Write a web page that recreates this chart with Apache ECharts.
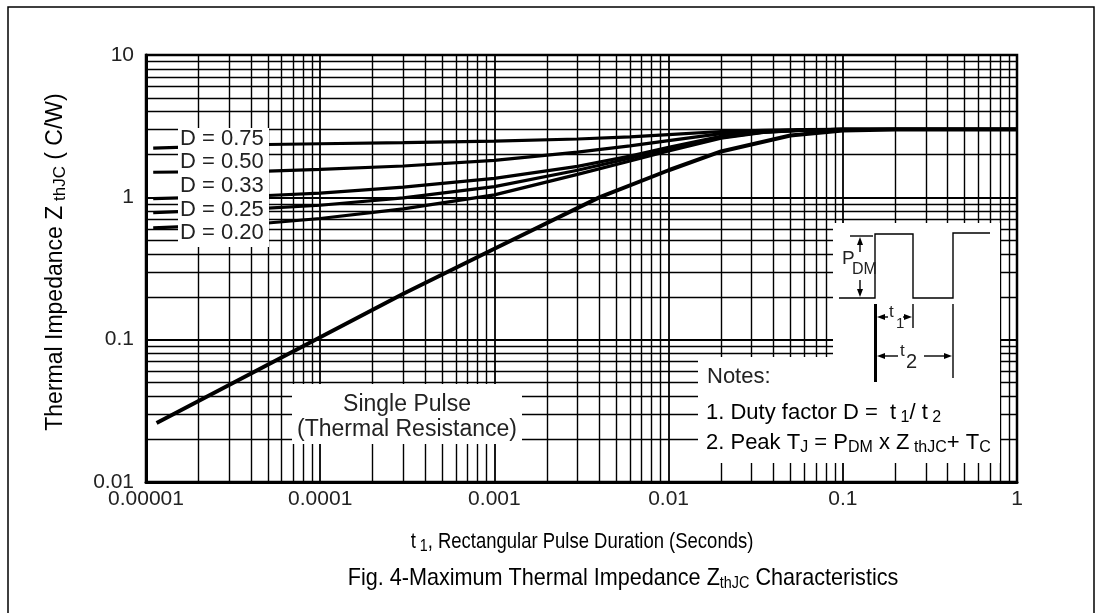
<!DOCTYPE html>
<html>
<head>
<meta charset="utf-8">
<script src="https://cdn.jsdelivr.net/npm/echarts@6/dist/echarts.min.js"></script>
<style>html,body{margin:0;padding:0;background:#fff}#c{width:1103px;height:613px}</style>
</head>
<body>
<div id="c"></div>
<script>
// ---- data ----
const pulseT = [1.1e-5, 5e-5, 1e-4, 3e-4, 1e-3, 3e-3, 6e-3, 1e-2, 2e-2, 3.5e-2, 6e-2, 0.1, 1];
const zD075 = [2.22, 2.35, 2.38, 2.42, 2.48, 2.57, 2.66, 2.76, 2.90, 2.96, 2.99, 3.0, 3.0];
const zD050 = [1.50, 1.53, 1.57, 1.66, 1.82, 2.08, 2.30, 2.50, 2.80, 2.92, 2.98, 3.0, 3.0];
const zD033 = [0.98, 1.03, 1.07, 1.18, 1.36, 1.65, 1.95, 2.25, 2.68, 2.88, 2.97, 3.0, 3.0];
const zD025 = [0.78, 0.84, 0.88, 0.99, 1.19, 1.55, 1.88, 2.18, 2.64, 2.87, 2.97, 3.0, 3.0];
const zD020 = [0.61, 0.66, 0.71, 0.83, 1.04, 1.45, 1.80, 2.12, 2.60, 2.86, 2.97, 3.0, 3.0];
const singleT = [1.15e-5, 1e-4, 3e-4, 1e-3, 4e-3, 1e-2, 2e-2, 5e-2, 0.1, 0.2, 1];
const singleZ = [0.026, 0.104, 0.21, 0.435, 1.0, 1.55, 2.1, 2.72, 2.95, 3.0, 3.0];
const xTickLabels = ['0.00001', '0.0001', '0.001', '0.01', '0.1', '1'];
const yTickLabels = ['0.01', '0.1', '1', '10'];
const dLabels = ['D = 0.75', 'D = 0.50', 'D = 0.33', 'D = 0.25', 'D = 0.20'];

const FONT = 'Liberation Sans, Arial, sans-serif';
const pairs = (xs, ys) => xs.map((x, i) => [x, ys[i]]);
const curve = (name, xs, ys, w) => ({
  name, type: 'line', data: pairs(xs, ys), showSymbol: false, smooth: false,
  lineStyle: { color: '#000', width: w }, z: 5, silent: true
});

const chart = echarts.init(document.getElementById('c'), null, { renderer: 'canvas' });

const noteRich = {
  m: { fontSize: 22, lineHeight: 26, fontFamily: FONT, color: '#222', verticalAlign: 'middle' },
  s: { fontSize: 16, lineHeight: 13, fontFamily: FONT, color: '#222', verticalAlign: 'bottom' }
};

const black = '#000';
const TXT = '#222';
const graphics = [
  // outer frame
  { type: 'rect', shape: { x: 8, y: 7, width: 1086, height: 700 }, style: { fill: 'none', stroke: black, lineWidth: 1.5 }, z: 200 },
  // white boxes over the grid
  { type: 'rect', shape: { x: 178, y: 128, width: 91, height: 119 }, style: { fill: '#fff' }, z: 100 },
  { type: 'rect', shape: { x: 292, y: 384, width: 230, height: 60 }, style: { fill: '#fff' }, z: 100 },
  { type: 'rect', shape: { x: 833, y: 223, width: 167, height: 240 }, style: { fill: '#fff' }, z: 100 },
  { type: 'rect', shape: { x: 698, y: 357, width: 302, height: 106 }, style: { fill: '#fff' }, z: 100 },
  // single pulse text
  { type: 'text', x: 407, y: 405, style: { text: 'Single Pulse', font: '23px ' + FONT, fill: TXT, align: 'center', verticalAlign: 'middle' }, z: 110 },
  { type: 'text', x: 407, y: 430, style: { text: '(Thermal Resistance)', font: '23px ' + FONT, fill: TXT, align: 'center', verticalAlign: 'middle' }, z: 110 },
  // notes
  { type: 'text', x: 707, y: 377, style: { text: 'Notes:', font: '22px ' + FONT, fill: TXT, align: 'left', verticalAlign: 'middle' }, z: 110 },
  { type: 'text', x: 706, y: 413, style: { text: '{m|1. Duty factor D =  t}{s| 1}{m|/ t}{s| 2}', rich: noteRich, align: 'left', verticalAlign: 'middle' }, z: 110 },
  { type: 'text', x: 706, y: 443, style: { text: '{m|2. Peak T}{s|J}{m| = P}{s|DM}{m| x Z}{s| thJC}{m|+ T}{s|C}', rich: noteRich, align: 'left', verticalAlign: 'middle' }, z: 110 },
  // pulse waveform
  { type: 'polyline', shape: { points: [[839, 298], [875, 298], [875, 234], [913, 234], [913, 298], [953, 298], [953, 233], [990, 233]] }, style: { stroke: black, lineWidth: 1.4, fill: 'none' }, z: 110 },
  { type: 'line', shape: { x1: 850, y1: 236, x2: 873, y2: 236 }, style: { stroke: black, lineWidth: 1.4 }, z: 110 },
  // P_DM arrows
  { type: 'line', shape: { x1: 860, y1: 240, x2: 860, y2: 252 }, style: { stroke: black, lineWidth: 1.4 }, z: 110 },
  { type: 'polygon', shape: { points: [[860, 237], [857, 245], [863, 245]] }, style: { fill: black }, z: 110 },
  { type: 'line', shape: { x1: 860, y1: 280, x2: 860, y2: 293 }, style: { stroke: black, lineWidth: 1.4 }, z: 110 },
  { type: 'polygon', shape: { points: [[860, 297], [857, 289], [863, 289]] }, style: { fill: black }, z: 110 },
  { type: 'text', x: 842, y: 259, style: { text: 'P', font: '19px ' + FONT, fill: TXT, align: 'left', verticalAlign: 'middle' }, z: 110 },
  { type: 'text', x: 852, y: 270, style: { text: 'DM', font: '16px ' + FONT, fill: TXT, align: 'left', verticalAlign: 'middle' }, z: 110 },
  // time markers
  { type: 'line', shape: { x1: 875.5, y1: 304, x2: 875.5, y2: 382 }, style: { stroke: black, lineWidth: 3 }, z: 110 },
  { type: 'line', shape: { x1: 913, y1: 304, x2: 913, y2: 328 }, style: { stroke: black, lineWidth: 1.4 }, z: 110 },
  { type: 'line', shape: { x1: 953, y1: 304, x2: 953, y2: 378 }, style: { stroke: black, lineWidth: 1.4 }, z: 110 },
  // t1 arrows
  { type: 'polygon', shape: { points: [[877, 317], [885, 314], [885, 320]] }, style: { fill: black }, z: 110 },
  { type: 'line', shape: { x1: 884, y1: 317, x2: 888, y2: 317 }, style: { stroke: black, lineWidth: 1.4 }, z: 110 },
  { type: 'text', x: 889, y: 312, style: { text: 't', font: '17px ' + FONT, fill: TXT, align: 'left', verticalAlign: 'middle' }, z: 110 },
  { type: 'text', x: 896, y: 324, style: { text: '1', font: '15px ' + FONT, fill: TXT, align: 'left', verticalAlign: 'middle' }, z: 110 },
  { type: 'line', shape: { x1: 903, y1: 317, x2: 906, y2: 317 }, style: { stroke: black, lineWidth: 1.4 }, z: 110 },
  { type: 'polygon', shape: { points: [[912, 317], [904, 314], [904, 320]] }, style: { fill: black }, z: 110 },
  // t2 arrows
  { type: 'polygon', shape: { points: [[877, 356], [885, 353], [885, 359]] }, style: { fill: black }, z: 110 },
  { type: 'line', shape: { x1: 884, y1: 356, x2: 898, y2: 356 }, style: { stroke: black, lineWidth: 1.4 }, z: 110 },
  { type: 'text', x: 900, y: 351, style: { text: 't', font: '17px ' + FONT, fill: TXT, align: 'left', verticalAlign: 'middle' }, z: 110 },
  { type: 'text', x: 906, y: 362, style: { text: '2', font: '20px ' + FONT, fill: TXT, align: 'left', verticalAlign: 'middle' }, z: 110 },
  { type: 'line', shape: { x1: 924, y1: 356, x2: 945, y2: 356 }, style: { stroke: black, lineWidth: 1.4 }, z: 110 },
  { type: 'polygon', shape: { points: [[952, 356], [944, 353], [944, 359]] }, style: { fill: black }, z: 110 },
  // y axis title
  { type: 'text', x: 56, y: 262, rotation: Math.PI / 2,
    style: { text: '{m|Thermal Impedance Z}{s| thJC}{m| ( C/W)}', rich: {
      m: { fontSize: 23, lineHeight: 26, fontFamily: FONT, color: TXT },
      s: { fontSize: 17, lineHeight: 13, fontFamily: FONT, color: TXT, verticalAlign: 'bottom' } },
      align: 'center', verticalAlign: 'middle' }, z: 110 },
  // x axis title (condensed like the reference type)
  { type: 'text', x: 582, y: 542, scaleX: 0.84, originX: 0, originY: 0,
    style: { text: '{m|t}{s| 1}{m|, Rectangular Pulse Duration (Seconds)}', rich: {
      m: { fontSize: 22, lineHeight: 26, fontFamily: FONT, color: TXT },
      s: { fontSize: 17, lineHeight: 13, fontFamily: FONT, color: TXT, verticalAlign: 'bottom' } },
      align: 'center', verticalAlign: 'middle' }, z: 110 },
  // caption
  { type: 'text', x: 623, y: 578, scaleX: 0.9, originX: 0, originY: 0,
    style: { text: '{m|Fig. 4-Maximum Thermal Impedance Z}{s|thJC}{m| Characteristics}', rich: {
      m: { fontSize: 24, lineHeight: 28, fontFamily: FONT, color: '#111' },
      s: { fontSize: 16, lineHeight: 12, fontFamily: FONT, color: '#111', verticalAlign: 'bottom' } },
      align: 'center', verticalAlign: 'middle' }, z: 110 }
];
// D labels
const dY = [139, 162, 186, 210, 233];
dLabels.forEach((t, i) => graphics.push({ type: 'text', x: 180, y: dY[i], style: { text: t, font: '22px ' + FONT, fill: TXT, align: 'left', verticalAlign: 'middle' }, z: 110 }));

const option = {
  backgroundColor: '#fff',
  animation: false,
  grid: { left: 146, right: 86, top: 55, bottom: 131, show: true, borderColor: '#000', borderWidth: 2.5, backgroundColor: 'transparent' },
  xAxis: {
    type: 'log', logBase: 10, min: 1e-5, max: 1,
    axisLine: { show: true, onZero: false, lineStyle: { color: '#000', width: 3 } },
    axisTick: { show: false },
    minorTick: { show: false, splitNumber: 9 },
    splitLine: { show: true, lineStyle: { color: '#000', width: 1.8 } },
    minorSplitLine: { show: true, lineStyle: { color: '#000', width: 1.4 } },
    axisLabel: { margin: 7, fontSize: 21, fontFamily: FONT, color: TXT,
      formatter: v => xTickLabels[Math.round(Math.log10(v)) + 5] }
  },
  yAxis: {
    type: 'log', logBase: 10, min: 0.01, max: 10,
    axisLine: { show: true, onZero: false, lineStyle: { color: '#000', width: 3 } },
    axisTick: { show: false },
    minorTick: { show: false, splitNumber: 9 },
    splitLine: { show: true, lineStyle: { color: '#000', width: 1.8 } },
    minorSplitLine: { show: true, lineStyle: { color: '#000', width: 1.4 } },
    axisLabel: { margin: 12, fontSize: 21, fontFamily: FONT, color: TXT,
      formatter: v => yTickLabels[Math.round(Math.log10(v)) + 2] }
  },
  series: [
    curve('D = 0.75', pulseT, zD075, 3.2),
    curve('D = 0.50', pulseT, zD050, 3.2),
    curve('D = 0.33', pulseT, zD033, 3.2),
    curve('D = 0.25', pulseT, zD025, 3.2),
    curve('D = 0.20', pulseT, zD020, 3.2),
    curve('Single Pulse', singleT, singleZ, 4)
  ],
  graphic: { elements: graphics }
};
chart.setOption(option);
</script>
</body>
</html>
